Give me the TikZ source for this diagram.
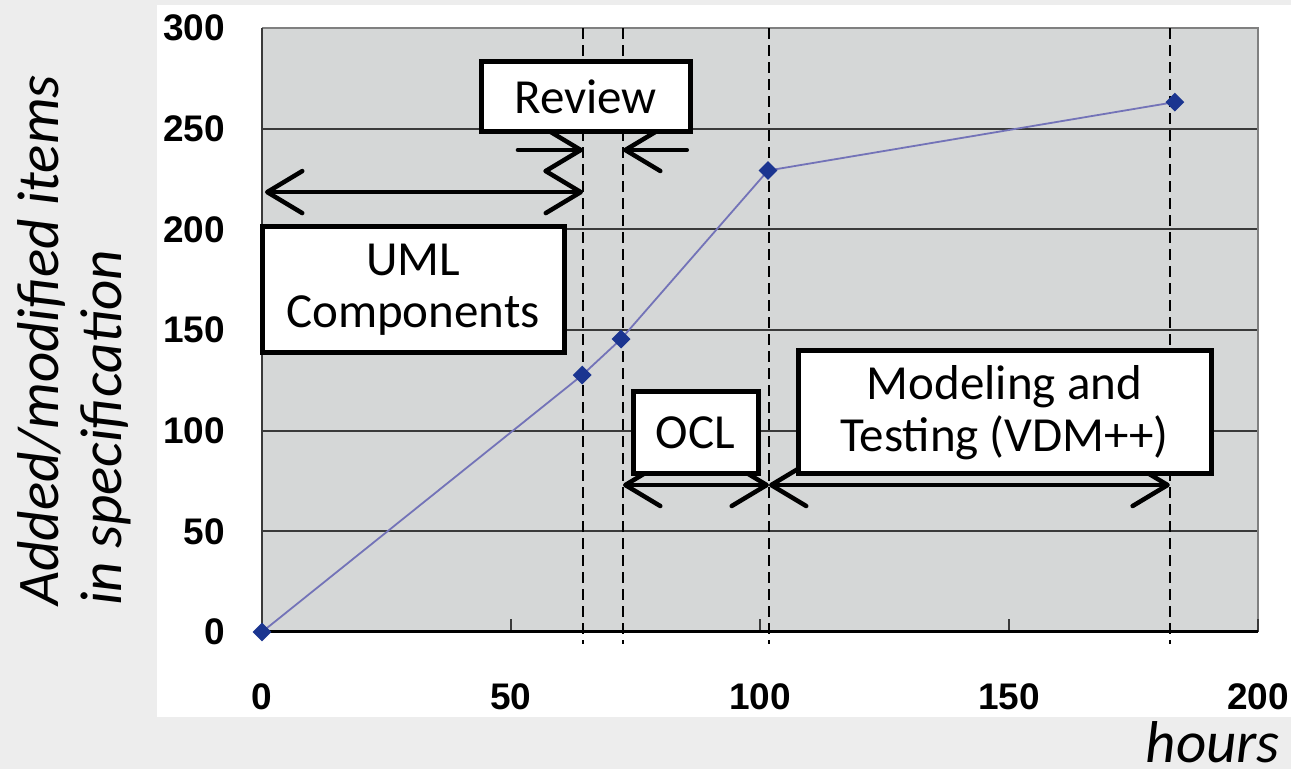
\documentclass[tikz,border=0pt]{standalone}
\usepackage{fontspec}
\setmainfont{Carlito}
\newfontfamily\tickfont{Liberation Sans}
\usetikzlibrary{arrows.meta, shapes.geometric}
\definecolor{cbg}{HTML}{EDEDED}
\definecolor{cplot}{HTML}{D5D7D7}
\definecolor{cgrid}{HTML}{3A3A3A}
\definecolor{cline}{HTML}{7373B8}
\definecolor{cmark}{HTML}{1B3590}
\tikzset{
  every picture/.style={x=1pt, y=1pt},
  phase/.style={draw=black, fill=white, line width=5pt, align=center, inner sep=0pt, font=\fontsize{49}{52}\selectfont},
  phasespan/.style={line width=4.5pt, line cap=round, {Straight Barb[length=35pt,width=42pt,round]}-{Straight Barb[length=35pt,width=42pt,round]}},
  phasehalf/.style={line width=4.5pt, line cap=round, -{Straight Barb[length=35pt,width=42pt,round]}},
  phaseline/.style={black, line width=2pt, dash pattern=on 11pt off 6pt},
  ticklabel/.style={font=\tickfont\bfseries\fontsize{37}{40}\selectfont, inner sep=0pt},
  marker/.style={diamond, fill=cmark, minimum size=19pt, inner sep=0pt},
  axistitle/.style={font=\itshape\fontsize{59}{63}\selectfont, inner sep=0pt},
}

\begin{document}
\begin{tikzpicture}
  % hours -> x, items -> y
  \def\hx#1{262+4.98*#1}
  \def\vy#1{137+2.0133*#1}
  \useasboundingbox (0,0) rectangle (1291,769);
  \fill[cbg] (0,0) rectangle (1291,769);
  \fill[white] (157,52) rectangle (1291,764);
  \fill[cplot] ({\hx{0}},{\vy{0}}) rectangle ({\hx{200}},{\vy{300}});
  \foreach \v in {50,100,...,250} \draw[cgrid, line width=2pt] ({\hx{0}},{\vy{\v}}) -- ({\hx{200}},{\vy{\v}});
  \draw[gray, line width=2pt] ({\hx{0}},{\vy{300}}) -- ({\hx{200}},{\vy{300}}) -- ({\hx{200}},{\vy{0}});
  \draw[cgrid, line width=2pt] ({\hx{0}},{\vy{0}}) -- ({\hx{0}},{\vy{300}});
  \foreach \t in {50,100,150,200} \draw[cgrid, line width=2pt] ({\hx{\t}},{\vy{0}}) -- ({\hx{\t}},{\vy{0}+13});
  \draw[black, line width=3pt] ({\hx{0}},{\vy{0}}) -- ({\hx{200}},{\vy{0}});
  \foreach \h in {64.46,72.5,101.8,182.3} \draw[phaseline] ({\hx{\h}},{\vy{300}}) -- ({\hx{\h}},{\vy{0}-12});
  % tick labels
  \foreach \v in {0,50,...,300} \node[ticklabel, anchor=east] (yl\v) at (225,{\vy{\v}}) {\v};
  \foreach \t in {0,50,...,200} \node[ticklabel] (xl\t) at ({\hx{\t}},72) {\t};
  \node[axistitle, rotate=90, anchor=west, align=left] (ytitle) at (74,163) {Added/modified items\\in specification};
  \node[axistitle, anchor=south east] (hours) at (1280,6) {hours};
  % data
  \coordinate (d0) at ({\hx{0}},{\vy{0}});
  \coordinate (d1) at ({\hx{64.3}},{\vy{127.6}});
  \coordinate (d2) at ({\hx{72.1}},{\vy{145.5}});
  \coordinate (d3) at ({\hx{101.6}},{\vy{229.2}});
  \coordinate (d4) at ({\hx{183.3}},{\vy{263.2}});
  \draw[cline, line width=1.8pt] (d0) -- (d1) -- (d2) -- (d3) -- (d4);
  \foreach \i in {0,...,4} \node[marker] (m\i) at (d\i) {};
  % phase spans
  \coordinate (umlL) at ({\hx{0.6}},{\vy{218.5}});
  \coordinate (umlR) at ({\hx{64.46}},{\vy{218.5}});
  \coordinate (revA) at ({\hx{51.4}},{\vy{239.4}});
  \coordinate (revB) at ({\hx{64.46}},{\vy{239.4}});
  \coordinate (revC) at ({\hx{85.3}},{\vy{239.4}});
  \coordinate (revD) at ({\hx{72.5}},{\vy{239.4}});
  \coordinate (oclL) at ({\hx{72.5}},{\vy{73}});
  \coordinate (oclR) at ({\hx{101.8}},{\vy{73}});
  \coordinate (vdmL) at ({\hx{101.8}},{\vy{73}});
  \coordinate (vdmR) at ({\hx{182.3}},{\vy{73}});
  \draw[phasespan] (umlL) -- (umlR);
  \draw[phasehalf] (revA) -- (revB);
  \draw[phasehalf] (revC) -- (revD);
  \draw[phasespan] (oclL) -- (oclR);
  \draw[phasespan] (vdmL) -- (vdmR);
  % phase boxes
  \node[phase, minimum width=209pt, minimum height=70pt] (review) at (585.5,672) {Review};
  \node[phase, minimum width=302pt, minimum height=126pt] (uml) at (413,479) {UML\\Components};
  \node[phase, minimum width=125pt, minimum height=82pt] (ocl) at (695.5,336) {OCL};
  \node[phase, minimum width=413pt, minimum height=123pt] (vdm) at (1004.5,356.5) {Modeling and\\Testing (VDM++)};
\end{tikzpicture}
\end{document}
